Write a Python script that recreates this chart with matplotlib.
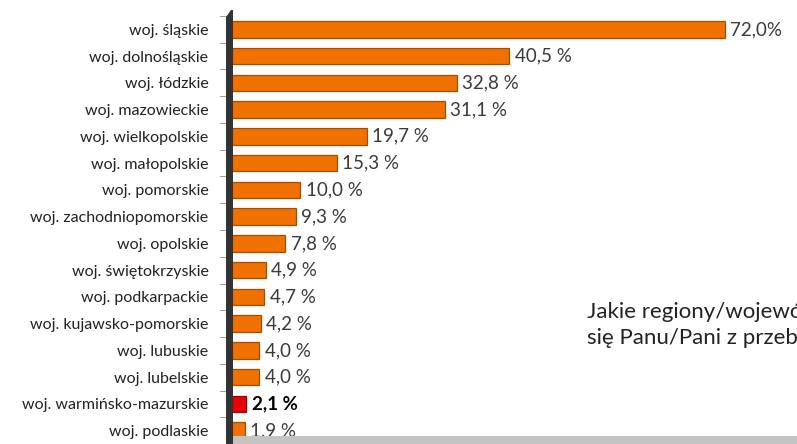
import matplotlib.pyplot as plt
from matplotlib.patches import Polygon, Rectangle

regions = ['woj. śląskie', 'woj. dolnośląskie', 'woj. łódzkie', 'woj. mazowieckie',
           'woj. wielkopolskie', 'woj. małopolskie', 'woj. pomorskie',
           'woj. zachodniopomorskie', 'woj. opolskie', 'woj. świętokrzyskie',
           'woj. podkarpackie', 'woj. kujawsko-pomorskie', 'woj. lubuskie',
           'woj. lubelskie', 'woj. warmińsko-mazurskie', 'woj. podlaskie']
values = [72.0, 40.5, 32.8, 31.1, 19.7, 15.3, 10.0, 9.3, 7.8, 4.9, 4.7, 4.2,
          4.0, 4.0, 2.1, 1.9]
value_labels = ['72,0%', '40,5 %', '32,8 %', '31,1 %', '19,7 %', '15,3 %', '10,0 %',
                '9,3 %', '7,8 %', '4,9 %', '4,7 %', '4,2 %', '4,0 %', '4,0 %',
                '2,1 %', '1,9 %']
highlight = 'woj. warmińsko-mazurskie'

W, H = 797, 444
X0 = 232  # pixel column of value 0
fig = plt.figure(figsize=(W / 100, H / 100), dpi=100)
fig.patch.set_facecolor('white')

# grey floor
floor = Rectangle((X0 / W, 0), (W - X0) / W, 8 / H, transform=fig.transFigure,
                  facecolor='#C4C4C4', edgecolor='none', zorder=0)
fig.patches.append(floor)

# dark 3-D wall
wall = Polygon([[226 / W, 0], [233 / W, 0], [233 / W, 1 - 10 / H],
                [231 / W, 1 - 10 / H], [226 / W, 1 - 17 / H]],
               closed=True, transform=fig.transFigure, facecolor='#333333',
               edgecolor='none', zorder=0)
fig.patches.append(wall)

ax = fig.add_axes([X0 / W, 0, (W - X0) / W, (H - 16) / H])
ax.set_facecolor('none')

colors = ['#E8000A' if r == highlight else '#F07000' for r in regions]
edges = ['#A00000' if r == highlight else '#A84C00' for r in regions]
ypos = range(len(regions))
ax.barh(ypos, values, height=0.62, color=colors, edgecolor=edges, linewidth=0.9,
        zorder=3)

for i, (v, lab, r) in enumerate(zip(values, value_labels, regions)):
    bold = r == highlight
    ax.text(v + 0.8, i, lab, va='center', ha='left', family='Lato',
            fontsize=13.5, color='black' if bold else '#3a3a3a',
            fontweight='bold' if bold else 'normal', zorder=4)

ax.set_xlim(0, 72.0 * (W - X0) / 493)
ax.set_ylim(15.5, -0.5)
ax.set_xticks([])
ax.set_yticks(list(ypos))
ax.set_yticklabels(regions, family='Lato', fontsize=11.5, color='#222222')
ax.tick_params(axis='y', length=0, pad=17)
for s in ax.spines.values():
    s.set_visible(False)

# small tick marks between categories, left of the wall
for k in range(len(regions) + 1):
    y = 1 - (k / len(regions))
    ax.plot([-12 / (W - X0), -6 / (W - X0)], [y, y], transform=ax.transAxes,
            color='#999999', lw=0.7, clip_on=False)

fig.text(587 / W, 1 - 312 / H, 'Jakie regiony/województwa', family='Lato',
         fontsize=16, color='#222222', va='center', ha='left')
fig.text(587 / W, 1 - 338 / H, 'się Panu/Pani z przebywania', family='Lato',
         fontsize=16, color='#222222', va='center', ha='left')

fig.savefig('out.png', dpi=100)
